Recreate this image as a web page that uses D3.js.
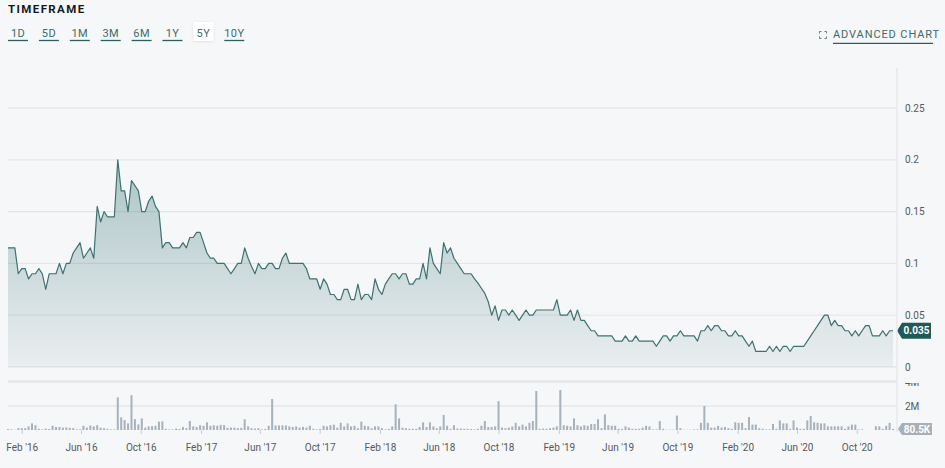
<!DOCTYPE html>
<html><head><meta charset="utf-8">
<script src="https://cdn.jsdelivr.net/npm/d3@7"></script>
<style>
html,body{margin:0;padding:0;background:#f5f7f9;}
svg{display:block;font-family:Roboto,"DejaVu Sans",sans-serif;}
</style></head><body>
<svg id="chart" width="945" height="468"></svg>
<script>
// ---------- DATA ----------
const startDate = "2016-01-04";   // first weekly close
const endDate = "2020-12-18";
const price = [
 0.115,0.115,0.115,0.09,0.095,0.095,0.085,0.09,0.09,0.095,
 0.09,0.075,0.09,0.09,0.09,0.1,0.09,0.1,0.1,0.11,
 0.115,0.12,0.105,0.11,0.115,0.105,0.155,0.14,0.15,0.145,
 0.145,0.145,0.2,0.17,0.17,0.15,0.18,0.175,0.17,0.15,
 0.15,0.16,0.165,0.155,0.15,0.115,0.12,0.12,0.115,0.115,
 0.115,0.12,0.115,0.125,0.125,0.13,0.13,0.12,0.11,0.105,
 0.105,0.1,0.1,0.1,0.095,0.09,0.095,0.1,0.1,0.115,
 0.105,0.097,0.09,0.1,0.095,0.095,0.1,0.1,0.095,0.095,
 0.105,0.11,0.1,0.1,0.1,0.1,0.1,0.095,0.085,0.085,
 0.085,0.075,0.085,0.08,0.07,0.07,0.065,0.065,0.075,0.075,
 0.065,0.065,0.08,0.065,0.07,0.07,0.065,0.085,0.075,0.07,
 0.08,0.085,0.09,0.09,0.085,0.09,0.09,0.08,0.08,0.085,
 0.085,0.1,0.085,0.115,0.1,0.095,0.09,0.12,0.11,0.115,
 0.105,0.1,0.095,0.09,0.09,0.09,0.085,0.081,0.076,0.071,
 0.063,0.05,0.059,0.045,0.055,0.055,0.05,0.055,0.05,0.045,
 0.05,0.055,0.05,0.05,0.055,0.055,0.055,0.055,0.055,0.055,
 0.065,0.05,0.05,0.05,0.055,0.045,0.055,0.045,0.045,0.04,
 0.035,0.035,0.03,0.03,0.03,0.03,0.03,0.025,0.025,0.025,
 0.03,0.025,0.025,0.03,0.025,0.025,0.025,0.025,0.025,0.02,
 0.025,0.03,0.03,0.025,0.03,0.03,0.035,0.03,0.03,0.03,
 0.03,0.025,0.035,0.035,0.04,0.035,0.04,0.04,0.035,0.035,
 0.03,0.03,0.035,0.03,0.03,0.025,0.02,0.025,0.015,0.015,
 0.015,0.015,0.02,0.015,0.02,0.015,0.02,0.02,0.015,0.02,
 0.02,0.02,0.02,0.025,0.03,0.035,0.04,0.045,0.05,0.05,
 0.04,0.045,0.04,0.04,0.035,0.035,0.03,0.035,0.03,0.035,
 0.04,0.04,0.03,0.03,0.03,0.035,0.03,0.035,0.035
];
const volumeM = [
 0.08,0.05,0.02,0.15,0.15,0.15,0.3,0.55,0.4,0.1,
 0.05,0.12,0.08,0.35,0.25,0.25,0.2,0.22,0.18,0.15,
 0.05,0.05,0.35,0.2,0.38,0.3,0.4,0.2,0.15,0.1,
 0.05,0.05,2.72,1.05,0.83,0.55,2.9,0.9,0.47,0.97,
 0.2,0.3,0.32,0.35,0.7,0.72,0.1,0.05,0.05,0.12,
 0.08,0.25,0.15,0.75,0.3,0.25,0.4,0.35,0.64,0.35,
 0.4,0.35,0.42,0.4,0.18,0.2,0.2,0.15,0.18,0.9,
 0.3,0.15,0.12,0.15,0.05,0.08,0.35,2.58,0.38,0.38,
 0.38,0.38,0.3,0.25,0.3,0.2,0.25,0.2,0.35,0.1,
 0.05,0.08,0.35,0.3,0.4,0.45,0.2,0.6,0.3,0.55,
 0.3,0.35,0.15,0.7,0.35,0.3,0.15,0.3,0.3,0.15,
 0.05,0.1,0.3,2.14,0.97,0.2,0.15,0.1,0.1,0.1,
 0.25,0.64,0.25,0.64,0.3,0.15,0.3,1.25,0.35,0.1,
 0.4,0.12,0.12,0.1,0.1,0.08,0.05,0.1,0.35,0.75,
 0.25,0.25,0.3,2.4,0.2,0.15,0.2,0.3,0.6,0.3,
 0.45,0.3,0.6,0.75,3.25,0.1,0.12,0.1,0.15,0.2,
 0.3,3.33,0.4,0.35,0.3,0.97,0.4,0.3,0.4,0.35,
 0.5,0.5,0.9,0.15,1.3,0.4,0.35,0.35,0.1,0.1,
 0.3,0.2,0.1,0.1,0.1,0.2,0.35,0.3,0.05,0.05,
 0.75,0.1,0.02,0.03,0.03,1.2,0.15,0.02,0.02,0.02,
 0.05,0.05,0.6,2.0,0.6,0.2,0.2,0.35,0.2,0.25,
 0.15,0.1,0.65,0.6,0.6,0.15,1.08,0.45,0.45,0.15,
 0.1,0.05,0.05,0.5,0.1,0.8,0.55,0.55,0.1,0.8,
 0.2,0.1,0.1,0.8,1.17,0.65,0.6,0.55,0.55,0.3,
 0.3,0.3,0.3,0.3,0.1,0.3,0.45,0.45,0.05,0.05,
 0,0,0,0.3,0.3,0.1,0.35,0.6,0.0805
];
const timeframes = ["1D","5D","1M","3M","6M","1Y","5Y","10Y"];
const selectedTimeframe = "5Y";
const priceTicks = [0,0.05,0.1,0.15,0.2,0.25];
const volumeTicks = [2,4];
const xTickDates = ["2016-02-01","2016-06-01","2016-10-01","2017-02-01","2017-06-01","2017-10-01",
  "2018-02-01","2018-06-01","2018-10-01","2019-02-01","2019-06-01","2019-10-01",
  "2020-02-01","2020-06-01","2020-10-01"];
const lastPriceLabel = "0.035";
const lastVolumeLabel = "80.5K";

// ---------- SETUP ----------
const svg = d3.select("#chart");
const parse = d3.utcParse("%Y-%m-%d");
const t0 = parse(startDate);
const rows = price.map((p,i)=>({date:d3.utcDay.offset(t0, 7*i), price:p, vol:volumeM[i]}));

const L = 8, R = 895, AX = 897;
const x = d3.scaleUtc().domain([t0, parse(endDate)]).range([L, R]);
const y = d3.scaleLinear().domain([0, 0.25]).range([367, 108]);
const yv = d3.scaleLinear().domain([0, 4]).range([430, 382]);

svg.append("rect").attr("width",945).attr("height",468).attr("fill","#f5f7f9");

// ---------- HEADER ----------
svg.append("text").attr("x",8).attr("y",13).text("TIMEFRAME")
  .attr("font-size",11.5).attr("font-weight",700).attr("letter-spacing",1.4).attr("fill","#16191c");

const defs = svg.append("defs");
const sh = defs.append("filter").attr("id","shadow").attr("x","-30%").attr("y","-30%").attr("width","160%").attr("height","160%");
sh.append("feDropShadow").attr("dx",0).attr("dy",0.5).attr("stdDeviation",1.2).attr("flood-color","#000").attr("flood-opacity",0.12);

const btn = svg.append("g").selectAll("g").data(timeframes).join("g")
  .attr("transform",(d,i)=>`translate(${18+30.9*i},0)`);
btn.filter(d=>d===selectedTimeframe).append("rect")
  .attr("x",-10).attr("y",22).attr("width",20).attr("height",19).attr("fill","#fff").attr("filter","url(#shadow)");
btn.append("text").text(d=>d).attr("text-anchor","middle").attr("y",36.5)
  .attr("font-size",11).attr("letter-spacing",0.4).attr("fill","#3f6b69");
btn.filter(d=>d!==selectedTimeframe).append("line")
  .attr("x1",-10).attr("x2",10).attr("y1",40.5).attr("y2",40.5).attr("stroke","#2f5e5c").attr("stroke-width",1.3);

// advanced chart link
const adv = svg.append("g");
const ic = adv.append("g").attr("stroke","#5d8381").attr("stroke-width",1).attr("fill","none");
ic.append("path").attr("d","M819.5,33.5 v-2 h2 M824.5,31.5 h2 v2 M826.5,36.5 v2 h-2 M821.5,38.5 h-2 v-2");
adv.append("text").attr("x",833).attr("y",38).text("ADVANCED CHART")
  .attr("font-size",11).attr("letter-spacing",0.9).attr("fill","#3f6b69");
adv.append("line").attr("x1",833).attr("x2",933).attr("y1",43.3).attr("y2",43.3).attr("stroke","#2f5e5c").attr("stroke-width",1.3);

// ---------- PRICE PANEL ----------
const grad = defs.append("linearGradient").attr("id","fillGrad").attr("gradientUnits","userSpaceOnUse")
  .attr("x1",0).attr("x2",0).attr("y1",y(0.2)).attr("y2",y(0));
grad.append("stop").attr("offset",0).attr("stop-color","#adc5c6");
grad.append("stop").attr("offset",1).attr("stop-color","#e9eef0");

const area = d3.area().x(d=>x(d.date)).y0(y(0)).y1(d=>y(d.price));
const line = d3.line().x(d=>x(d.date)).y(d=>y(d.price));
svg.append("path").datum(rows).attr("d",area).attr("fill","url(#fillGrad)");

svg.append("g").selectAll("line").data(priceTicks).join("line")
  .attr("x1",L).attr("x2",AX).attr("y1",d=>y(d)).attr("y2",d=>y(d))
  .attr("stroke","#000").attr("stroke-opacity",0.065).attr("stroke-width",1.3);

svg.append("path").datum(rows).attr("d",line).attr("fill","none")
  .attr("stroke","#3e7270").attr("stroke-width",1.2).attr("stroke-linejoin","round");

svg.append("g").selectAll("text").data(priceTicks).join("text")
  .attr("x",905).attr("y",d=>y(d)).attr("dy","0.35em").text(d=>d3.format("~g")(d))
  .attr("font-size",10).attr("fill","#55595d");

// price tag
const lp = rows[rows.length-1];
const py = y(lp.price);
svg.append("path").attr("d",`M${AX},${py} L${AX+5},${py-8} H${AX+34} V${py+8} H${AX+5} Z`).attr("fill","#1f5a58");
svg.append("text").attr("x",AX+19.5).attr("y",py).attr("dy","0.35em").attr("text-anchor","middle")
  .text(lastPriceLabel).attr("font-size",10).attr("font-weight",700).attr("fill","#fff");

// ---------- VOLUME PANEL ----------
svg.append("line").attr("x1",L).attr("x2",AX).attr("y1",yv(2)).attr("y2",yv(2))
  .attr("stroke","#000").attr("stroke-opacity",0.065).attr("stroke-width",1.3);

svg.append("g").selectAll("rect").data(rows).join("rect")
  .attr("x",d=>x(d.date)-1).attr("width",2)
  .attr("y",d=>yv(d.vol)).attr("height",d=>yv(0)-yv(d.vol))
  .attr("fill","#a6b2bc");

// panel separator
svg.append("line").attr("x1",L).attr("x2",AX).attr("y1",381.5).attr("y2",381.5)
  .attr("stroke","#e3e6e9").attr("stroke-width",2.5);
// vertical axis separator
svg.append("line").attr("x1",AX).attr("x2",AX).attr("y1",68).attr("y2",432)
  .attr("stroke","#e3e6e9").attr("stroke-width",1.3);

defs.append("clipPath").attr("id","volClip").append("rect").attr("x",0).attr("y",383).attr("width",945).attr("height",60);
svg.append("g").attr("clip-path","url(#volClip)").selectAll("text").data(volumeTicks).join("text")
  .attr("x",905).attr("y",d=>yv(d)).attr("dy","0.35em").text(d=>d+"M")
  .attr("font-size",10).attr("fill","#55595d");

// volume tag
const vy = yv(lp.vol);
svg.append("path").attr("d",`M${AX+1},${vy} L${AX+5},${vy-6} H${AX+35} V${vy+6} H${AX+5} Z`).attr("fill","#a6b0b8");
svg.append("text").attr("x",AX+20).attr("y",vy).attr("dy","0.35em").attr("text-anchor","middle")
  .text(lastVolumeLabel).attr("font-size",10).attr("font-weight",700).attr("fill","#fff");

// x axis
const xa = svg.append("g").attr("transform",`translate(0,${yv(0)})`)
  .call(d3.axisBottom(x).tickValues(xTickDates.map(parse)).tickFormat(d3.utcFormat("%b '%y")).tickSize(4).tickPadding(10));
xa.select(".domain").remove();
xa.selectAll(".tick line").attr("stroke","#c9ced3");
xa.selectAll(".tick text").attr("font-size",10).attr("fill","#55595d").attr("font-family","Roboto,\"DejaVu Sans\",sans-serif");
</script>
</body></html>
